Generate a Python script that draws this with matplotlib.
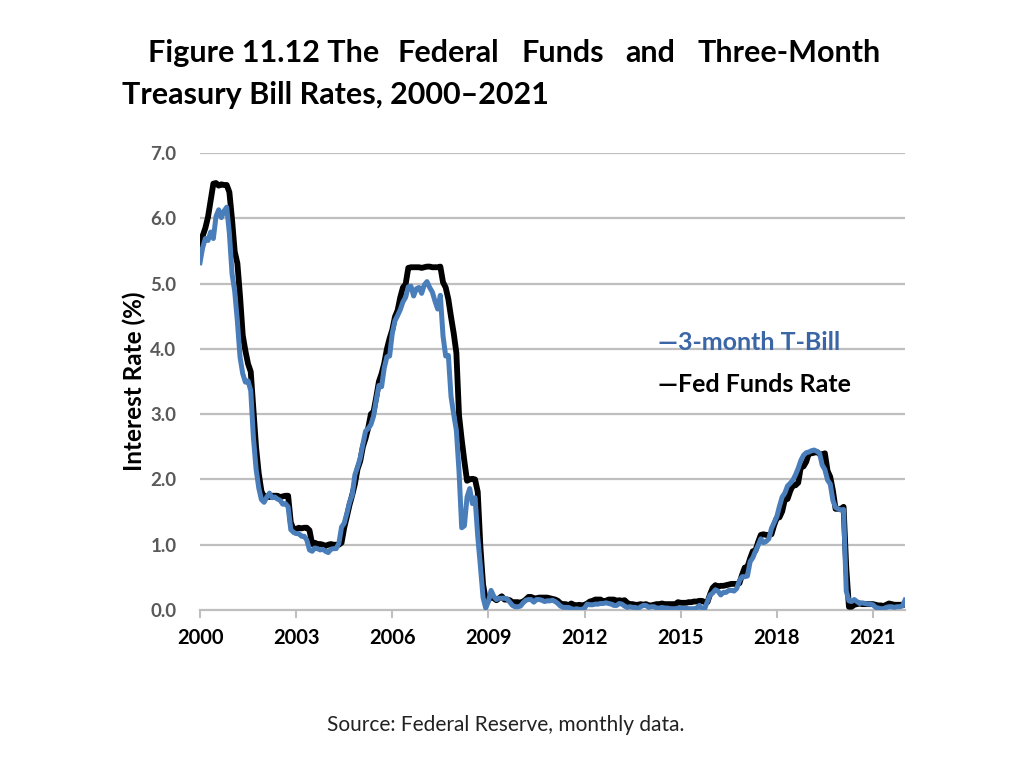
import matplotlib
matplotlib.use("Agg")
import matplotlib.pyplot as plt
import numpy as np

# Monthly data, Jan 2000 .. Jan 2022
fed_funds = [
    5.60, 5.73, 5.85, 6.02, 6.27, 6.53, 6.54, 6.50, 6.52, 6.51, 6.51, 6.40,
    5.98, 5.49, 5.31, 4.80, 4.21, 3.97, 3.77, 3.65, 3.07, 2.49, 2.09, 1.82,
    1.73, 1.74, 1.73, 1.75, 1.75, 1.75, 1.73, 1.74, 1.75, 1.75, 1.34, 1.24,
    1.24, 1.26, 1.25, 1.26, 1.26, 1.22, 1.01, 1.03, 1.01, 1.01, 1.00, 0.98,
    1.00, 1.01, 1.00, 1.00, 1.00, 1.03, 1.26, 1.43, 1.61, 1.76, 1.93, 2.16,
    2.28, 2.50, 2.63, 2.79, 3.00, 3.04, 3.26, 3.50, 3.62, 3.78, 4.00, 4.16,
    4.29, 4.49, 4.59, 4.79, 4.94, 4.99, 5.24, 5.25, 5.25, 5.25, 5.25, 5.24,
    5.25, 5.26, 5.26, 5.25, 5.25, 5.25, 5.26, 5.02, 4.94, 4.76, 4.49, 4.24,
    3.94, 2.98, 2.61, 2.28, 1.98, 2.00, 2.01, 2.00, 1.81, 0.97, 0.39, 0.16,
    0.15, 0.22, 0.18, 0.15, 0.18, 0.21, 0.16, 0.16, 0.15, 0.12, 0.12, 0.12,
    0.11, 0.13, 0.16, 0.20, 0.20, 0.18, 0.18, 0.19, 0.19, 0.19, 0.19, 0.18,
    0.17, 0.16, 0.14, 0.10, 0.09, 0.09, 0.07, 0.10, 0.08, 0.07, 0.08, 0.07,
    0.08, 0.10, 0.13, 0.14, 0.16, 0.16, 0.16, 0.13, 0.14, 0.16, 0.16, 0.16,
    0.14, 0.15, 0.14, 0.15, 0.11, 0.09, 0.09, 0.08, 0.08, 0.09, 0.08, 0.09,
    0.07, 0.07, 0.08, 0.09, 0.09, 0.10, 0.09, 0.09, 0.09, 0.09, 0.09, 0.12,
    0.11, 0.11, 0.11, 0.12, 0.12, 0.13, 0.13, 0.14, 0.14, 0.12, 0.12, 0.24,
    0.34, 0.38, 0.36, 0.37, 0.37, 0.38, 0.39, 0.40, 0.40, 0.40, 0.41, 0.54,
    0.65, 0.66, 0.79, 0.90, 0.91, 1.04, 1.15, 1.16, 1.15, 1.15, 1.16, 1.30,
    1.41, 1.42, 1.51, 1.69, 1.70, 1.82, 1.91, 1.91, 1.95, 2.19, 2.20, 2.27,
    2.40, 2.40, 2.41, 2.42, 2.39, 2.38, 2.40, 2.13, 2.04, 1.83, 1.55, 1.55,
    1.55, 1.58, 0.65, 0.05, 0.05, 0.08, 0.09, 0.10, 0.09, 0.09, 0.09, 0.09,
    0.09, 0.08, 0.07, 0.07, 0.06, 0.08, 0.10, 0.09, 0.08, 0.08, 0.08, 0.08,
    0.08,
]
tbill_3m = [
    5.32, 5.55, 5.69, 5.66, 5.79, 5.69, 6.03, 6.13, 6.01, 6.11, 6.17, 5.77,
    5.15, 4.88, 4.42, 3.87, 3.62, 3.49, 3.51, 3.36, 2.64, 2.16, 1.87, 1.69,
    1.65, 1.73, 1.79, 1.72, 1.73, 1.70, 1.68, 1.62, 1.63, 1.58, 1.23, 1.19,
    1.17, 1.17, 1.13, 1.13, 1.07, 0.92, 0.90, 0.95, 0.94, 0.92, 0.93, 0.90,
    0.88, 0.93, 0.94, 0.94, 1.02, 1.27, 1.33, 1.48, 1.65, 1.76, 2.07, 2.19,
    2.33, 2.54, 2.74, 2.78, 2.84, 2.97, 3.22, 3.44, 3.42, 3.71, 3.88, 3.89,
    4.24, 4.43, 4.51, 4.60, 4.72, 4.79, 4.95, 4.96, 4.81, 4.92, 4.94, 4.85,
    4.98, 5.03, 4.94, 4.87, 4.73, 4.61, 4.82, 4.20, 3.89, 3.90, 3.27, 3.00,
    2.75, 2.12, 1.26, 1.29, 1.73, 1.86, 1.63, 1.72, 1.13, 0.67, 0.19, 0.03,
    0.13, 0.30, 0.21, 0.16, 0.18, 0.18, 0.18, 0.17, 0.12, 0.07, 0.05, 0.05,
    0.06, 0.11, 0.15, 0.16, 0.16, 0.12, 0.16, 0.16, 0.15, 0.13, 0.14, 0.14,
    0.15, 0.13, 0.10, 0.06, 0.04, 0.04, 0.04, 0.02, 0.01, 0.02, 0.01, 0.01,
    0.03, 0.09, 0.08, 0.08, 0.09, 0.09, 0.10, 0.10, 0.11, 0.10, 0.09, 0.07,
    0.07, 0.10, 0.09, 0.06, 0.04, 0.05, 0.04, 0.04, 0.02, 0.05, 0.07, 0.07,
    0.04, 0.05, 0.05, 0.03, 0.03, 0.04, 0.03, 0.03, 0.02, 0.02, 0.02, 0.03,
    0.03, 0.02, 0.03, 0.02, 0.02, 0.02, 0.03, 0.07, 0.02, 0.02, 0.13, 0.23,
    0.26, 0.31, 0.29, 0.23, 0.27, 0.27, 0.30, 0.30, 0.29, 0.33, 0.45, 0.51,
    0.51, 0.52, 0.74, 0.80, 0.90, 0.99, 1.09, 1.03, 1.05, 1.09, 1.25, 1.34,
    1.43, 1.59, 1.73, 1.79, 1.90, 1.94, 1.99, 2.07, 2.17, 2.29, 2.37, 2.41,
    2.42, 2.44, 2.45, 2.43, 2.40, 2.22, 2.15, 1.99, 1.93, 1.68, 1.57, 1.55,
    1.53, 1.54, 0.29, 0.14, 0.13, 0.16, 0.13, 0.10, 0.11, 0.10, 0.09, 0.09,
    0.08, 0.04, 0.03, 0.02, 0.02, 0.04, 0.05, 0.05, 0.04, 0.05, 0.05, 0.06,
    0.15,
]
start_year = 2000
x_tick_years = [2000, 2003, 2006, 2009, 2012, 2015, 2018, 2021]
y_ticks = [0.0, 1.0, 2.0, 3.0, 4.0, 5.0, 6.0, 7.0]

title_line1_words = ["Figure 11.12 The", "Federal", "Funds", "and", "Three-Month"]
title_line2 = "Treasury Bill Rates, 2000\u20132021"
ylabel = "Interest Rate (%)"
legend_tbill = "\u20143-month T-Bill"
legend_fed = "\u2014Fed Funds Rate"
source = "Source: Federal Reserve, monthly data."

plt.rcParams["font.family"] = ["Lato", "DejaVu Sans"]

W, H = 1024, 768
fig = plt.figure(figsize=(W / 100, H / 100), dpi=100)
ax = fig.add_axes([200 / W, 1 - 610 / H, 705 / W, 457 / H])

x = start_year + np.arange(len(fed_funds)) / 12.0
ax.plot(x, fed_funds, color="black", lw=4.2, solid_joinstyle="round", zorder=3)
ax.plot(x, tbill_3m, color="#4A7EBB", lw=3.6, solid_joinstyle="round", zorder=4)

ax.set_xlim(2000, 2022.0)
ax.set_ylim(0, 7)
ax.set_yticks(y_ticks)
ax.set_yticklabels([f"{v:.1f}" for v in y_ticks], fontsize=13.5, fontweight="bold", color="#595959")
ax.set_xticks(x_tick_years)
ax.set_xticklabels([str(v) for v in x_tick_years], fontsize=14.5, fontweight="bold", color="black")
ax.tick_params(axis="y", length=0, pad=17)
ax.tick_params(axis="x", length=6, width=1.5, color="#BFBFBF", pad=7, direction="out")
for y in y_ticks[1:]:
    ax.axhline(y, color="#BFBFBF", lw=1.6, zorder=1)
for s in ["top", "right", "left"]:
    ax.spines[s].set_visible(False)
ax.spines["bottom"].set_color("#BFBFBF")
ax.spines["bottom"].set_linewidth(1.6)
ax.set_ylabel(ylabel, fontsize=17.5, fontweight="bold", labelpad=3)

# Title (justified first line)
line1_x = [148, 398, 522, 625, 697]
for wx, w in zip(line1_x, title_line1_words):
    fig.text(wx / W, 1 - 62 / H, w, fontsize=22, fontweight="bold",
             ha="left", va="baseline")
fig.text(122 / W, 1 - 104 / H, title_line2, fontsize=22, fontweight="bold",
         ha="left", va="baseline")

# Legend as text
fig.text(658 / W, 1 - 343 / H, legend_tbill, fontsize=18, fontweight="bold",
         color="#3A66A6", ha="left", va="center")
fig.text(658 / W, 1 - 384 / H, legend_fed, fontsize=18, fontweight="bold",
         color="black", ha="left", va="center")

fig.text(506 / W, 1 - 725 / H, source, fontsize=15, color="#222222", ha="center", va="center")

fig.savefig("out.png", dpi=100)
